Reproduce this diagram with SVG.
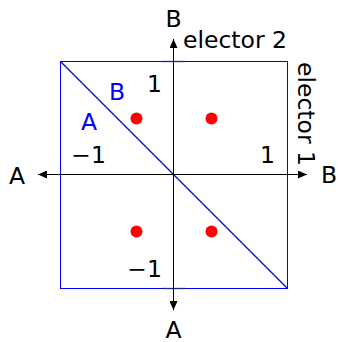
<svg xmlns="http://www.w3.org/2000/svg" width="338" height="342" viewBox="0 0 338 342">
<style>
text{font-family:"DejaVu Sans","Liberation Sans",sans-serif;font-size:23.5px;fill:#000}
.blue{fill:#0000ff}
.ax{stroke:#000;stroke-width:1;fill:none}
.sq{stroke:#0000ff;stroke-width:1;fill:none}
.dot{fill:#ff0000}
</style>
<defs>
<marker id="ah" viewBox="0 0 9 8" refX="9" refY="4" markerWidth="9" markerHeight="8" markerUnits="userSpaceOnUse" orient="auto">
<path d="M0,0 L9,4 L0,8 Z" fill="#000"/>
</marker>
</defs>
<g id="square">
<rect class="sq" x="60.5" y="61.5" width="227" height="227"/>
<line x1="60.5" y1="61.5" x2="287.5" y2="288.5" stroke="#0000ff" stroke-width="1.3"/>
<line x1="162" y1="61.5" x2="185" y2="61.5" stroke="#20208f" stroke-width="1.3"/>
<line x1="162" y1="288.5" x2="185" y2="288.5" stroke="#20208f" stroke-width="1.3"/>
</g>
<g id="connectors">
<line class="ax" x1="173.5" y1="174.5" x2="173.5" y2="39" marker-end="url(#ah)"/>
<line class="ax" x1="173.5" y1="174.5" x2="173.5" y2="310" marker-end="url(#ah)"/>
<line class="ax" x1="173.5" y1="174.5" x2="307" y2="174.5" marker-end="url(#ah)"/>
<line class="ax" x1="173.5" y1="174.5" x2="38" y2="174.5" marker-end="url(#ah)"/>
</g>
<g id="dots">
<circle class="dot" cx="136.5" cy="118.5" r="6"/>
<circle class="dot" cx="211.5" cy="118.5" r="6"/>
<circle class="dot" cx="136.5" cy="231.5" r="6"/>
<circle class="dot" cx="211.5" cy="231.5" r="6"/>
</g>
<g id="labels">
<text x="173.5" y="27" text-anchor="middle">B</text>
<text x="183" y="48">elector 2</text>
<text transform="translate(298,62) rotate(90)">elector 1</text>
<text x="329" y="183" text-anchor="middle">B</text>
<text x="17" y="184" text-anchor="middle">A</text>
<text x="173.5" y="338" text-anchor="middle">A</text>
<text x="162" y="92" text-anchor="end">1</text>
<text x="106" y="163" text-anchor="end">−1</text>
<text x="275" y="163" text-anchor="end">1</text>
<text x="162" y="277" text-anchor="end">−1</text>
<text class="blue" x="117" y="100" text-anchor="middle">B</text>
<text class="blue" x="89" y="130" text-anchor="middle">A</text>
</g>
</svg>
